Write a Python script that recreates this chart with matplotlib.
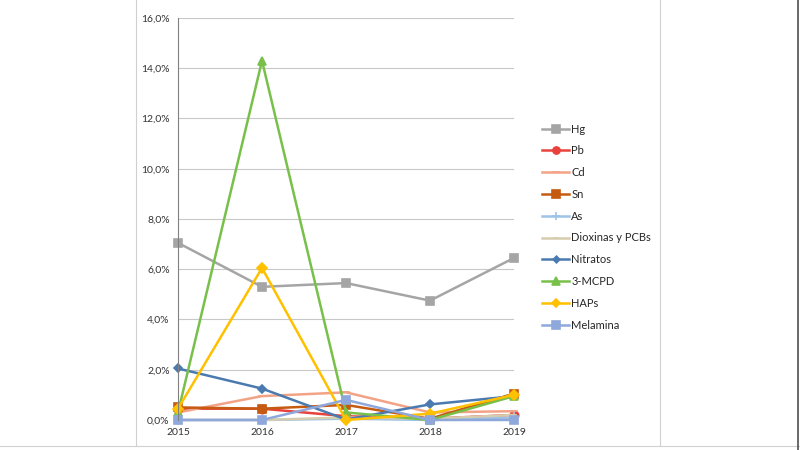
import matplotlib
matplotlib.use("Agg")
import matplotlib.pyplot as plt
from matplotlib.lines import Line2D
from matplotlib.ticker import FuncFormatter

# Datos (% de notificaciones)
years = [2015, 2016, 2017, 2018, 2019]
hg = [7.05, 5.3, 5.45, 4.75, 6.45]
pb = [0.45, 0.45, 0.15, 0.05, 0.2]
cd = [0.3, 0.95, 1.1, 0.3, 0.35]
sn = [0.5, 0.45, 0.6, 0.05, 1.05]
as_ = [0.0, 0.0, 0.05, 0.0, 0.1]
dioxinas = [0.0, 0.0, 0.1, 0.05, 0.2]
nitratos = [2.05, 1.25, 0.02, 0.62, 0.95]
mcpd = [0.3, 14.3, 0.3, 0.0, 0.95]
haps = [0.45, 6.05, 0.0, 0.25, 1.0]
melamina = [0.0, 0.0, 0.8, 0.0, 0.0]

series = [
    ("Hg", hg, "#a5a5a5", "s", 6),
    ("Pb", pb, "#e8423c", "o", 6),
    ("Cd", cd, "#f2a386", "_", 6),
    ("Sn", sn, "#c55a11", "s", 6),
    ("As", as_, "#9dc3e6", "+", 7),
    ("Dioxinas y PCBs", dioxinas, "#d6ccae", "_", 5),
    ("Nitratos", nitratos, "#4a7ab0", "D", 4),
    ("3-MCPD", mcpd, "#78c04a", "^", 6),
    ("HAPs", haps, "#ffc000", "D", 5),
    ("Melamina", melamina, "#8fa8dc", "s", 6),
]

plt.rcParams["font.family"] = ["Lato", "DejaVu Sans"]

fig = plt.figure(figsize=(8, 4.5), dpi=100, facecolor="white")
ax = fig.add_axes([0.2225, 0.0667, 0.42, 0.8933])

for name, vals, color, marker, ms in series:
    ax.plot(years, vals, color=color, lw=1.8, marker=marker, markersize=ms,
            markeredgecolor=color, markeredgewidth=1.2, label=name, clip_on=False)

ax.set_xlim(2015, 2019)
ax.set_ylim(0, 16)
ax.set_xticks(years)
ax.set_yticks(range(0, 17, 2))
ax.yaxis.set_major_formatter(FuncFormatter(lambda v, p: f"{v:.1f}%".replace(".", ",")))
ax.tick_params(length=0, labelsize=7.5, colors="#333333", pad=6)
ax.grid(axis="y", color="#c8c8c8", lw=0.8)
ax.set_axisbelow(True)
for s in ["top", "right", "bottom"]:
    ax.spines[s].set_visible(False)
ax.spines["left"].set_color("#808080")
ax.spines["left"].set_linewidth(0.8)

leg = ax.legend(loc="center left", bbox_to_anchor=(1.055, 0.48), frameon=False,
                fontsize=8, labelspacing=0.97, handlelength=2.4,
                handletextpad=0.2, markerscale=0.85)
for t in leg.get_texts():
    t.set_color("#262626")

# marco del gráfico
frame = "#d0d0d0"
fig.add_artist(Line2D([0.17, 0.17], [0.009, 1.0], color=frame, lw=0.8))
fig.add_artist(Line2D([0.825, 0.825], [0.009, 1.0], color=frame, lw=0.8))
fig.add_artist(Line2D([0.0, 1.0], [0.009, 0.009], color=frame, lw=0.8))
fig.add_artist(Line2D([0.9975, 0.9975], [0.0, 1.0], color="#505050", lw=1.2))

fig.savefig("out.png", dpi=100, facecolor="white")
